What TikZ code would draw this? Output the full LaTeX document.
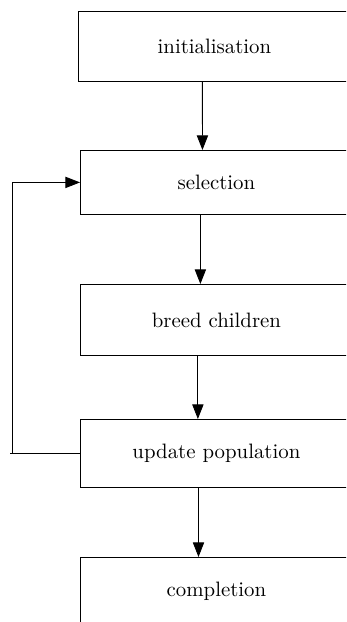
\documentclass[tikz,border=0pt]{standalone}
\usetikzlibrary{arrows.meta}
\tikzset{
  stage/.style={draw, anchor=north west, inner sep=0pt, minimum width=130.56pt},
  flow/.style={-{Triangle[length=7pt,width=5.4pt]}}
}

\begin{document}
\begin{tikzpicture}[x=0.48pt, y=-0.48pt]
        \path[use as bounding box, clip] (0,0) rectangle (346,622);
        \node[stage, minimum height=33.6pt]  (init)  at (78,11)  {initialisation};
        \node[stage, minimum height=30.72pt] (sel)   at (80,150) {selection};
        \node[stage, minimum height=34.08pt] (breed) at (80,284) {breed children};
        \node[stage, minimum height=32.64pt] (upd)   at (80,419) {update population};
        \node[stage, minimum height=32.64pt] (comp)  at (80,557) {completion};
        \draw [flow] ([xshift=-5.8pt]init.south)  -- ([xshift=-6.7pt]sel.north);
        \draw [flow] ([xshift=-7.7pt]sel.south)   -- ([xshift=-7.7pt]breed.north);
        \draw [flow] ([xshift=-8.9pt]breed.south) -- ([xshift=-8.9pt]upd.north);
        \draw [flow] ([xshift=-8.6pt]upd.south)   -- ([xshift=-8.6pt]comp.north);
        % loop back to selection
        \coordinate (back) at (12,453);
        \draw (upd.west) -- ++(-70,0);
        \draw [flow] (back) |- (sel.west);
    \end{tikzpicture}
\end{document}
